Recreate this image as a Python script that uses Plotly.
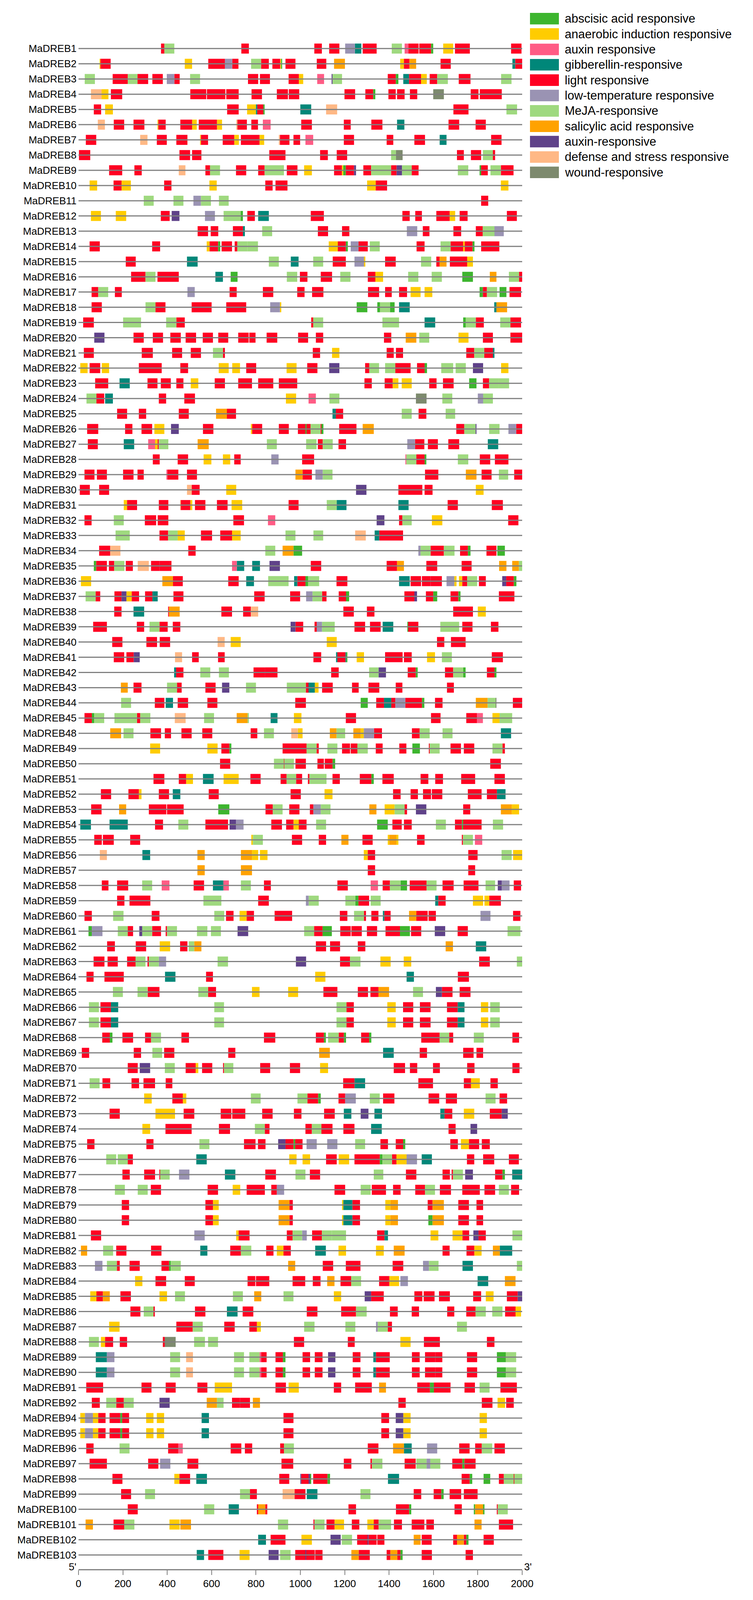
import plotly.graph_objects as go

# ---------------- data ----------------
genes = ["MaDREB%d" % i for i in list(range(1, 46)) + list(range(48, 93)) + list(range(94, 104))]

codes = ["A", "N", "X", "G", "L", "T", "M", "S", "P", "D", "W"]
names = ["abscisic acid responsive", "anaerobic induction responsive", "auxin responsive",
         "gibberellin-responsive", "light responsive", "low-temperature responsive",
         "MeJA-responsive", "salicylic acid responsive", "auxin-responsive",
         "defense and stress responsive", "wound-responsive"]
colors = ["#3db52e", "#ffcc00", "#ff5c85", "#008779", "#ff0022", "#9a93b3",
          "#9fd97f", "#ffa200", "#5f4289", "#ffb885", "#7d8a6e"]

x_ticks = [0, 200, 400, 600, 800, 1000, 1200, 1400, 1600, 1800, 2000]

# element positions (bp) per gene: code + start-end
motifs = [
"L372-387 M387-432 L734-768 L1063-1097 L1130-1176 T1202-1246 G1246-1275 L1281-1344 M1412-1458 X1470-1487 L1487-1533 L1536-1589 A1589-1599 N1644-1689 L1697-1764 L1950-1997",
"N96-99 L99-145 N479-512 L585-660 T660-693 L693-721 M778-823 L823-858 L874-909 N909-913 A913-918 L933-978 L1074-1117 S1152-1201 N1450-1467 L1467-1492 S1492-1522 L1632-1678 G1956-1969 L1969-2015",
"M28-74 L154-222 M222-266 L266-314 L333-380 T398-432 L432-456 M503-548 L764-810 L818-863 L947-993 N993-1013 X1076-1107 P1142-1145 M1145-1188 L1394-1430 A1430-1442 G1464-1490 L1490-1544 N1544-1570 L1583-1617 M1617-1665 L1714-1767 M1905-1952",
"D56-104 N104-135 L146-197 L504-576 L579-662 L666-722 L780-827 L894-944 L948-995 L1199-1247 L1293-1328 A1328-1338 L1397-1430 L1436-1470 L1494-1527 W1599-1647 L1768-1803 L1809-1908",
"L69-102 N120-155 L670-722 N760-800 G800-806 L806-833 A833-839 G1000-1049 D1116-1166 L1690-1758 M1929-1977",
"D87-119 L159-206 L248-297 N356-360 L360-393 L459-512 N512-533 L542-624 N624-647 D711-716 L716-759 L779-809 X831-866 L1004-1052 L1196-1227 L1320-1370 G1436-1469 L1668-1716 L1790-1836",
"L33-80 D278-311 L353-398 L441-491 N548-552 L552-584 L650-702 N702-723 L732-816 N816-837 D903-908 L908-951 L969-999 X1023-1058 L1196-1242 L1389-1419 L1514-1562 G1628-1659 L1860-1907",
"L2-53 L455-503 L512-554 L860-933 L1089-1124 L1164-1211 M1409-1431 W1431-1461 L1706-1737 L1769-1815 M1823-1868 L1868-1878",
"L138-197 L252-285 D452-482 L572-593 M593-638 L710-756 L810-839 M839-926 L939-987 N1017-1052 L1152-1187 N1187-1193 A1193-1205 L1205-1242 P1242-1251 L1284-1319 M1319-1409 L1409-1434 P1434-1458 M1458-1502 L1502-1533 M1710-1757 A1808-1815 L1815-1845 M1857-1904 L1904-1961",
"N50-84 L158-194 N194-236 L386-419 N590-623 L842-875 L888-942 N1301-1340 L1340-1391 N1904-1938",
"M294-339 M428-473 T518-552 M552-597 M633-677 L1815-1847",
"N56-101 N168-215 L371-411 P420-455 T570-615 M654-731 A731-741 L761-795 G810-858 L1047-1106 L1460-1493 L1518-1548 L1613-1673 N1673-1698 L1718-1754 L1931-1976",
"L537-584 L596-630 L696-741 G741-750 M828-873 L1079-1125 L1188-1221 T1480-1527 L1552-1582 L1690-1725 L1791-1822 M1822-1875 T1875-1917",
"L50-96 L332-368 N578-591 L591-629 A629-639 L645-692 L704-716 M716-761 M761-809 N1128-1169 L1169-1205 A1205-1214 T1227-1262 L1262-1304 M1313-1358 L1524-1560 M1632-1677 L1677-1734 N1734-1741 L1741-1776 A1776-1785 L1815-1897",
"L213-258 G489-537 M858-903 G957-992 M1058-1103 L1146-1205 T1244-1287 N1287-1293 L1382-1430 M1544-1590 L1613-1628 S1628-1659 L1674-1752 N1752-1778",
"L237-302 M302-347 L356-452 G617-651 A686-717 M939-986 L998-1032 L1092-1143 M1180-1226 L1304-1338 N1338-1373 M1486-1532 M1592-1638 A1730-1778 S1854-1884 M1940-1986 L1986-2007",
"L59-89 M89-134 L164-195 T491-524 L681-713 L831-878 L986-1019 L1053-1104 L1305-1355 L1382-1412 L1445-1481 N1497-1542 N1560-1595 A1808-1823 L1823-1841 M1841-1887 A1898-1929 L1943-1995",
"L59-105 M302-347 L347-392 L510-600 L666-756 T864-908 N908-914 A1254-1302 A1347-1359 M1359-1404 A1404-1425 G1445-1493 G1874-1884 S1884-1932",
"L21-69 M201-282 M395-441 L441-479 L1049-1058 M1058-1103 M1370-1445 G1560-1608 A1734-1746 M1746-1791 L1791-1827 M1901-1947 L1947-1995",
"P71-117 L248-294 L335-381 L414-461 L483-530 L560-606 L630-675 L720-767 L770-798 L848-896 L990-1035 L1070-1103 L1377-1410 S1475-1523 M1536-1581 N1713-1758 L1823-1868 L1947-2007",
"L24-69 L285-335 L422-467 L506-552 M606-651 L651-660 L1056-1089 N1143-1176 L1389-1421 L1431-1463 L1748-1784 M1784-1829 L1829-1868 G1868-1875",
"N8-41 L50-98 N105-138 L272-375 L459-494 N632-677 N693-728 L756-801 N938-983 L1031-1077 P1130-1176 L1292-1311 M1311-1355 M1382-1428 L1428-1497 L1526-1560 A1560-1571 M1635-1689 M1700-1746 P1778-1824 N1905-1938",
"L75-134 G185-231 L311-356 L371-416 L441-473 N506-540 L614-660 L720-782 L810-878 L903-986 L1289-1322 L1380-1416 N1416-1442 N1457-1502 L1581-1614 L1643-1691 A1761-1794 L1823-1851 M1851-1896 M1896-1941",
"M36-81 L81-116 G120-155 L362-395 L477-525 N935-981 X1037-1070 M1131-1176 W1521-1569 M1640-1685 T1800-1824 M1824-1868",
"L174-219 L272-305 L452-497 S620-669 L669-710 G1145-1160 L1160-1193 M1457-1502 L1533-1568 M1655-1698",
"L39-89 L210-243 L284-332 N342-387 P417-452 L561-608 N777-783 L783-828 L903-948 L989-1023 A1023-1028 L1028-1046 M1046-1091 L1091-1095 A1095-1104 L1175-1253 S1281-1331 L1703-1739 M1739-1790 P1790-1794 M1851-1898 T1938-1973 L1973-2004",
"L42-87 G204-251 X314-345 N345-357 L357-362 M362-405 S537-587 M849-894 M1026-1073 L1079-1101 M1101-1146 L1172-1206 T1482-1517 L1517-1559 L1575-1620 L1667-1716 G1845-1892",
"L335-366 L447-494 N564-599 N651-684 L702-731 T869-902 L1008-1062 X1475-1478 M1478-1523 L1523-1560 A1560-1568 M1710-1757 L1809-1856 L1877-1938",
"L27-72 L83-128 L201-248 L266-294 X396-401 L401-450 L489-534 S978-1010 L1010-1052 T1068-1101 M1101-1145 L1562-1622 S1746-1794 L1817-1862 M1895-1937 L1964-2007",
"L6-51 L93-138 D489-510 L510-546 N666-711 P1251-1298 L1442-1550 L1560-1596 N1791-1826",
"N204-219 L219-264 L362-405 D458-461 L461-504 N504-513 L525-572 L624-672 N690-738 L947-992 M1119-1164 G1164-1208 G1442-1488 L1664-1710 L1863-1913",
"L27-59 M159-204 L299-350 L357-405 L698-746 X854-887 P1344-1379 L1445-1460 M1460-1502 N1593-1640 L1937-1983",
"M167-231 L365-404 M404-447 N447-479 L552-602 L639-692 N692-731 M933-978 M1059-1103 D1247-1295 G1335-1356 L1356-1463",
"L93-143 D143-189 L495-528 M842-887 S920-969 A969-1008 T1532-1542 M1542-1587 L1587-1647 M1647-1695 L1720-1755 A1755-1767 L1839-1884 A1888-1922",
"A69-80 L80-128 L137-161 M161-207 L213-245 D267-317 L327-365 L365-419 X692-714 G714-747 G783-818 P861-908 L1047-1094 L1389-1436 S1436-1467 L1568-1617 L1727-1772 S1896-1929 S1955-1985 M1985-2019",
"N11-57 S378-426 L426-470 L675-722 G756-791 M855-947 G972-987 L987-1023 A1023-1035 M1035-1085 L1163-1212 G1445-1493 L1497-1544 L1548-1587 L1587-1638 T1659-1694 N1694-1704 N1715-1730 L1730-1752 M1752-1797 L1805-1836 P1910-1928 L1928-1962 A1962-1974",
"M32-77 L77-98 L162-194 P194-216 N216-240 L240-273 L300-333 G333-357 L428-473 L792-839 L954-999 T1026-1055 M1055-1098 L1098-1118 L1173-1206 A1206-1220 L1469-1514 P1514-1526 L1566-1599 A1599-1617 L1677-1712 A1712-1722 L1895-1965",
"L161-194 G248-296 L404-408 S408-456 L644-692 L742-777 D777-810 L1194-1241 L1300-1334 L1689-1778 N1800-1836",
"L66-128 L263-296 M320-365 L365-402 L425-459 P956-978 L978-1013 L1064-1074 T1074-1098 M1098-1155 L1244-1292 L1314-1362 G1371-1419 A1484-1486 L1486-1532 M1631-1716 L1730-1776 L1859-1893",
"L152-198 L306-354 L366-413 D627-659 N686-731 N1119-1164 L1616-1649 L1679-1745",
"L159-206 L216-249 P249-276 D435-467 L512-542 L629-659 L1059-1094 G1161-1167 L1167-1203 G1203-1207 A1207-1212 N1254-1287 L1382-1461 L1467-1502 N1571-1607 M1638-1683 L1863-1913",
"G431-440 L440-473 M549-594 M633-678 L789-840 L840-897 L1139-1173 M1310-1353 P1353-1386 L1484-1520 A1520-1529 L1652-1689 M1689-1734 A1734-1745 L1841-1875 A1875-1884",
"S191-222 L248-284 M399-444 L444-465 L572-618 P647-680 M755-800 M939-1025 L1025-1037 G1037-1065 N1065-1082 L1098-1146 L1233-1263 L1307-1356 L1430-1460 L1661-1692",
"M192-237 L344-387 G393-426 L447-494 L581-626 L977-1025 A1272-1304 L1342-1377 G1377-1410 L1410-1428 T1428-1473 L1473-1548 A1548-1559 L1607-1641 S1791-1844 M1844-1881 W1881-1884 L1958-2007",
"L27-60 A60-71 M71-116 M162-264 L264-278 M278-324 D434-483 M566-611 S713-762 M762-768 G866-897 N971-1005 L1205-1251 L1589-1632 L1748-1796 X1796-1823 N1866-1898 M1898-1955",
"S143-192 M203-248 L324-372 L389-417 L464-510 L558-603 L776-806 M836-881 D959-989 N989-1010 S1133-1163 M1163-1202 S1239-1272 N1272-1286 T1286-1332 L1332-1368 L1503-1538 M1538-1583 M1641-1686 G1904-1950",
"N323-368 N581-627 L644-680 A680-689 L920-1028 M1028-1073 L1073-1083 M1122-1167 L1188-1224 L1227-1257 M1257-1304 L1340-1371 L1446-1478 A1505-1539 L1580-1583 M1583-1628 L1677-1724 L1737-1784 M1866-1911 L1911-1922",
"L638-684 M881-926 L926-928 M928-971 L978-1025 L1077-1106 L1110-1145 A1145-1157 L1856-1904",
"L338-387 L452-485 N485-516 G561-609 N654-722 L775-821 L911-938 M938-981 L981-1008 L1034-1041 M1041-1118 L1145-1178 L1268-1320 A1320-1331 L1370-1421 L1542-1577 L1608-1643 L1725-1788 L1875-1922",
"L101-147 L225-272 N272-284 L362-408 G425-459 L587-632 L956-1002 N1109-1145 L1418-1452 L1497-1530 L1553-1589 L1593-1640 L1755-1817 L1841-1886 G1886-1925",
"L57-104 S183-215 L317-396 L399-474 A630-680 L843-876 M876-920 L950-996 L1043-1059 T1059-1092 M1092-1136 S1311-1343 N1380-1425 M1425-1470 L1470-1481 P1521-1568 L1734-1766 S1904-1953 N1953-1986",
"G8-56 G140-222 L345-381 M450-495 L572-674 P681-710 T710-744 L869-917 L936-969 N969-993 L993-1028 M1071-1116 A1346-1394 L1415-1457 L1467-1502 M1611-1656 L1697-1728 A1728-1734 L1734-1817 M1868-1914",
"L71-105 L110-159 L233-278 N779-786 M786-831 L962-1008 L1083-1116 S1185-1217 L1280-1326 N1394-1401 S1401-1433 N1433-1442 L1526-1560 L1728-1733 M1733-1778 X1787-1820",
"D96-128 G288-323 S536-569 S732-782 N782-810 N818-852 N1286-1304 L1304-1337 L1757-1799 M1907-1953 N1959-2007",
"S536-569 S732-782 L1304-1337 L1757-1788",
"L105-135 L174-224 M287-332 X375-410 L519-566 G606-653 X653-678 M732-777 L836-867 L1167-1214 X1317-1350 L1371-1404 M1404-1452 A1452-1481 L1493-1569 M1569-1614 L1641-1691 L1736-1803 M1835-1878 P1890-1908 T1908-1943 L1962-1995",
"L174-207 L230-324 M563-644 L810-858 T1025-1038 M1038-1083 M1203-1248 A1248-1262 L1262-1310 M1317-1362 G1608-1622 L1622-1655 N1778-1824 N1830-1852 L1852-1904",
"L27-60 M156-203 L330-365 M612-657 L665-699 N726-758 L758-791 L884-963 L1178-1212 M1242-1287 L1287-1296 L1320-1352 G1372-1379 L1379-1407 S1490-1523 L1523-1574 L1578-1611 T1812-1857 L1959-1992",
"A45-60 T60-108 M177-222 L222-246 P274-287 M287-332 L332-372 L393-399 M399-444 M534-581 M597-642 P717-765 M1017-1062 L1062-1100 A1100-1142 L1180-1227 L1230-1277 L1300-1346 L1384-1449 A1449-1494 L1499-1545 P1606-1653 L1709-1755 M1934-1992",
"L129-164 L258-305 N366-413 L458-491 M497-522 S522-554 L1070-1116 L1134-1179 L1259-1293 S1655-1688 G1791-1838",
"L68-117 L131-177 L219-257 M257-302 L311-317 M317-362 T362-395 M627-674 P980-1026 L1179-1224 M1224-1271 N1361-1407 N1466-1500 L1806-1854 M1976-2022",
"L36-68 L117-204 G390-437 L575-606 N1067-1113 G1479-1512 L1710-1760",
"M155-200 M266-311 L312-365 M540-584 L584-620 N782-816 N945-990 L1104-1167 L1259-1305 L1316-1352 S1352-1400 M1508-1553 P1611-1638 L1638-1686 L1718-1767",
"M47-92 L99-146 G146-179 M612-656 M1163-1208 L1208-1241 N1392-1430 L1463-1509 L1539-1587 L1661-1709 G1709-1740 N1814-1847 M1856-1899",
"M47-92 L99-146 G146-179 M612-656 M1163-1208 L1208-1241 N1392-1430 L1463-1509 L1539-1587 L1661-1709 G1709-1740 N1814-1847 M1856-1899",
"L107-141 A141-153 L198-246 L300-327 M327-372 L464-498 L836-887 L1070-1106 A1106-1115 M1125-1173 L1173-1196 A1196-1206 L1274-1310 A1310-1320 L1545-1628 M1628-1671 L1671-1689 M1782-1827 L1956-1986",
"L15-48 L249-282 M333-377 L386-432 L675-707 S1085-1133 G1373-1421 L1538-1571 L1734-1781 L1794-1824",
"L222-267 P276-323 M389-434 L483-528 N528-540 L557-603 L653-656 M656-698 L819-864 L953-999 N1089-1125 L1421-1472 L1494-1527 L1598-1629 L1752-1785 L1956-1988",
"M50-95 L108-143 L239-273 L293-345 L393-423 L1193-1244 G1244-1292 L1532-1598 L1737-1769 N1769-1809 L1857-1890",
"N296-330 L423-470 N470-486 M777-821 M987-1032 L1032-1080 A1080-1092 L1172-1202 T1202-1250 M1313-1358 L1373-1424 L1578-1626 L1656-1706 M1835-1880 L1898-1932",
"L140-186 N347-435 L474-522 L641-689 L693-752 L828-875 L971-1005 L1107-1155 G1196-1230 P1272-1307 G1334-1368 G1631-1650 L1650-1685 N1737-1784 L1854-1908 P1908-1935",
"N288-323 L392-510 L633-683 M795-840 L840-861 L1023-1052 M1052-1095 L1095-1145 L1194-1244 G1319-1367 L1668-1700 P1767-1797",
"L39-72 L306-338 M545-590 L746-798 L809-843 P900-933 L933-969 A969-977 L977-1010 T1028-1074 T1121-1167 M1247-1292 L1361-1395 L1430-1463 A1463-1473 L1676-1710 N1724-1760 L1760-1806 L1818-1854",
"M125-170 M177-222 L222-245 G531-578 N950-983 N1010-1044 L1116-1164 N1173-1220 L1244-1358 A1358-1370 M1370-1413 L1413-1433 N1433-1479 T1479-1526 G1547-1593 L1751-1784 L1824-1874 L1940-1985",
"L198-231 L296-345 L365-368 M368-411 T453-500 G660-707 L842-890 M978-1023 L1043-1089 M1331-1374 L1476-1523 L1641-1674 L1682-1688 M1688-1733 P1743-1778 L1878-1911 A1911-1922 G1955-2015",
"M164-209 M267-312 L326-372 L582-629 N695-729 L758-840 L869-894 T894-927 L1154-1202 M1272-1317 L1322-1386 L1418-1452 L1518-1562 M1562-1607 L1629-1679 L1730-1809 L1830-1878 M1895-1940 L1950-1986",
"L195-228 L572-606 N606-632 S902-951 L951-966 N1188-1194 G1194-1235 L1235-1269 N1383-1406 S1406-1440 L1574-1596 S1596-1647 L1712-1760 L1794-1824",
"L195-228 L572-606 N606-632 S902-951 L951-966 N1188-1194 G1194-1235 L1235-1269 N1383-1406 S1406-1440 A1577-1596 S1596-1647 L1712-1760 L1794-1824",
"L56-102 T522-569 N711-722 L722-771 L939-965 M965-1008 T1008-1029 L1053-1097 M1097-1142 M1142-1206 L1346-1379 G1379-1395 N1587-1622 N1686-1731 L1731-1761 P1780-1803 L1803-1836 M1956-2004",
"S11-39 M111-156 L170-216 L327-374 G549-581 L684-732 M732-779 L846-879 N894-924 L924-957 G1067-1115 N1172-1206 N1341-1376 S1421-1470 L1641-1673 L1749-1784 N1784-1817 S1868-1899 G1899-1955",
"T74-108 M128-173 L173-186 L230-276 L374-408 A408-416 M416-461 S945-977 L1101-1148 L1205-1271 L1416-1464 T1553-1580 M1580-1623 G1731-1778 M1976-2022",
"N255-288 L347-395 L479-524 L762-797 L800-860 L965-1022 L1056-1091 S1121-1154 L1181-1229 M1229-1274 L1355-1401 N1401-1445 T1451-1485 G1799-1847 S1922-1970",
"N53-81 L81-110 S110-141 L189-236 N365-399 M435-480 M696-741 S792-824 M924-969 N1151-1184 P1290-1319 L1319-1376 L1514-1550 L1556-1605 L1625-1674 L1779-1815 N1836-1871 L1931-1980 P1980-2004",
"L234-279 M294-338 L338-344 L525-572 G669-717 L740-788 L1029-1077 L1184-1251 M1251-1299 L1404-1439 L1502-1535 L1662-1694 L1748-1790 M1790-1836 M1865-1911 L1923-1970 N1970-1995",
"N138-185 L441-515 M515-560 L657-704 L770-804 N804-822 M1017-1064 M1203-1248 T1341-1349 M1349-1394 L1394-1413 M1706-1751",
"M47-92 N101-120 L120-156 L186-219 L380-389 W389-438 M521-570 M584-629 L971-1017 L1214-1245 N1451-1497 L1557-1629 L1841-1875",
"G78-128 T128-162 M413-458 D485-516 M701-746 M770-816 X816-824 L824-848 L888-921 A921-933 L1010-1044 L1065-1100 P1125-1158 L1236-1271 G1329-1341 L1341-1403 L1503-1538 L1562-1608 L1608-1640 L1751-1797 A1886-1926 M1926-1973",
"G78-128 T128-162 M413-458 D485-516 M701-746 M770-816 X816-824 L824-848 L888-921 A921-933 L1010-1044 L1065-1100 P1125-1158 L1236-1271 G1329-1341 L1341-1403 L1503-1538 L1562-1608 L1608-1640 L1751-1797 A1886-1926 M1926-1973",
"L35-111 L284-329 L393-438 L536-581 N614-692 L888-935 N947-993 L1151-1184 L1247-1322 S1355-1386 L1527-1584 A1584-1602 L1602-1677 L1740-1787 M1808-1853 L1902-1976",
"L60-96 M125-170 L170-204 M204-249 P365-411 S578-624 M624-654 L692-728 L728-773 S786-818 L1442-1475 L1818-1866 N1889-1923 L1928-1962",
"N8-29 T29-65 N65-89 L89-122 L140-188 A188-197 L197-228 N305-338 N353-386 G555-588 L924-969 L1365-1400 P1430-1464 N1464-1497 N1808-1841",
"N8-29 T29-65 N65-89 L89-122 L140-188 A188-197 L197-228 N305-338 N353-386 G555-588 L924-969 L1365-1400 P1430-1464 N1464-1497 N1808-1841",
"L35-68 M185-230 L404-450 X450-470 L686-734 L750-783 L909-926 M926-971 L1304-1352 S1418-1467 G1467-1502 T1571-1617 L1716-1763 L1788-1818 M1818-1865 L1875-1922",
"L50-128 L314-360 T368-414 L491-540 L915-968 L1196-1230 L1316-1323 M1323-1370 L1470-1520 M1523-1569 T1569-1586 M1586-1631 L1685-1730 A1730-1740 L1740-1790",
"L153-198 N432-455 L455-503 G531-579 L905-950 P1000-1004 L1004-1037 P1037-1044 A1044-1049 L1058-1122 A1122-1134 G1395-1445 L1727-1763 A1763-1775 A1826-1856 L1895-1917 M1917-1962 L1962-1965 M1965-2010",
"L192-237 M300-345 M728-773 L773-804 D920-974 L974-1023 G1029-1077 M1271-1316 L1511-1545 L1601-1635 A1635-1646 L1673-1725 L1737-1799",
"L222-267 M566-612 G677-723 L804-810 S810-842 L842-851 L1217-1251 L1431-1490 A1490-1500 L1695-1728 A1782-1788 S1788-1824 A1824-1830 L1887-1890 M1890-1935",
"S32-65 L158-206 M206-252 N410-456 S459-507 M899-945 L1059-1064 M1064-1109 L1118-1154 N1154-1197 L1232-1266 N1302-1331 L1331-1353 M1353-1409 L1422-1458 L1502-1559 L1568-1602 S1785-1817 L1895-1959",
"G810-845 L866-933 N1005-1052 P1136-1182 M1187-1233 L1256-1304 P1304-1307 L1307-1344 L1347-1379 S1511-1542 L1547-1592 L1689-1706 S1706-1737 L1737-1748 A1748-1758 L1826-1872",
"G533-566 L585-653 N726-771 P857-902 M909-956 L977-1023 P1023-1026 L1026-1065 L1067-1100 S1230-1263 L1263-1313 L1389-1406 S1406-1437 L1437-1451 A1451-1461 L1547-1593 L1745-1778",
]

# ---------------- layout constants (pixels) ----------------
# The browser viewport is 4096 px tall inside the 4152 px window, so the
# reference's vertical geometry (measured on 4152 px) is scaled by K.
W, H_REF = 1928, 4152
H = 4096
K = H / H_REF
L_PX, R_PX = 201, 1337
T_PX, B_PX = 100 * K, 4072 * K
ROW0_PX, ROW_STEP = 125.7 * K, 39.49 * K
FONT = "Liberation Sans, Arial, sans-serif"

n = len(genes)
top_units = (ROW0_PX - T_PX) / ROW_STEP
tot_units = (B_PX - T_PX) / ROW_STEP

fig = go.Figure()

# backbone lines
lx, ly = [], []
for i in range(n):
    lx += [0, 2000, None]
    ly += [i, i, None]
fig.add_trace(go.Scatter(x=lx, y=ly, mode="lines", line=dict(color="#808080", width=3),
                         hoverinfo="skip", showlegend=False))

# element boxes
for code, name, color in zip(codes, names, colors):
    ys, bs, ws = [], [], []
    for i, s in enumerate(motifs):
        for tok in s.split():
            if tok[0] != code:
                continue
            a, b = tok[1:].split("-")
            a, b = float(a), float(b)
            ys.append(i)
            bs.append(a)
            ws.append(b - a)
    fig.add_trace(go.Bar(orientation="h", y=ys, x=ws, base=bs, width=0.66,
                         marker=dict(color=color, line=dict(width=0)),
                         name=name, showlegend=False))

# custom legend (shapes + text)
def px2x(px):
    return (px - L_PX) / (R_PX - L_PX)

def px2y(py_ref):
    py = py_ref * K
    return (B_PX - py) / (B_PX - T_PX)

shapes = []
annotations = []
for k, (name, color) in enumerate(zip(names, colors)):
    cy = 48 + 39.9 * k
    shapes.append(dict(type="rect", xref="paper", yref="paper",
                       x0=px2x(1357), x1=px2x(1431), y0=px2y(cy + 15), y1=px2y(cy - 15),
                       fillcolor=color, line=dict(width=0)))
    annotations.append(dict(xref="paper", yref="paper", x=px2x(1444), y=px2y(cy),
                            text=name, showarrow=False, xanchor="left", yanchor="middle",
                            font=dict(family=FONT, size=31, color="#000000")))

annotations.append(dict(xref="paper", yref="paper", x=px2x(197), y=px2y(4066), text="5'",
                        showarrow=False, xanchor="right", yanchor="middle",
                        font=dict(family=FONT, size=26, color="#000000")))
annotations.append(dict(xref="paper", yref="paper", x=px2x(1340), y=px2y(4066), text="3'",
                        showarrow=False, xanchor="left", yanchor="middle",
                        font=dict(family=FONT, size=26, color="#000000")))

fig.update_layout(
    width=W, height=H, autosize=False,
    margin=dict(l=L_PX, r=W - R_PX, t=T_PX, b=H - B_PX, pad=0, autoexpand=False),
    paper_bgcolor="white", plot_bgcolor="white",
    barmode="overlay",
    showlegend=False,
    shapes=shapes, annotations=annotations,
    font=dict(family=FONT, size=26, color="#000000"),
    xaxis=dict(range=[0, 2000], tickvals=x_ticks, ticktext=[str(v) for v in x_ticks],
               showline=True, linecolor="#808080", linewidth=3,
               ticks="outside", ticklen=12, tickwidth=2, tickcolor="#808080",
               showgrid=False, zeroline=False, automargin=False,
               tickfont=dict(family=FONT, size=26, color="#000000")),
    yaxis=dict(range=[tot_units - top_units, -top_units],
               tickvals=list(range(n)), ticktext=genes,
               showgrid=False, zeroline=False, showline=False, ticks="",
               ticklabelstandoff=4, automargin=False,
               tickfont=dict(family=FONT, size=26, color="#000000")),
)

page_css = ("document.body.style.margin='0';document.body.style.padding='0';"
            "document.documentElement.style.overflow='hidden';")

fig.write_html("out.html", config={"responsive": False, "displayModeBar": False},
               post_script=page_css)
